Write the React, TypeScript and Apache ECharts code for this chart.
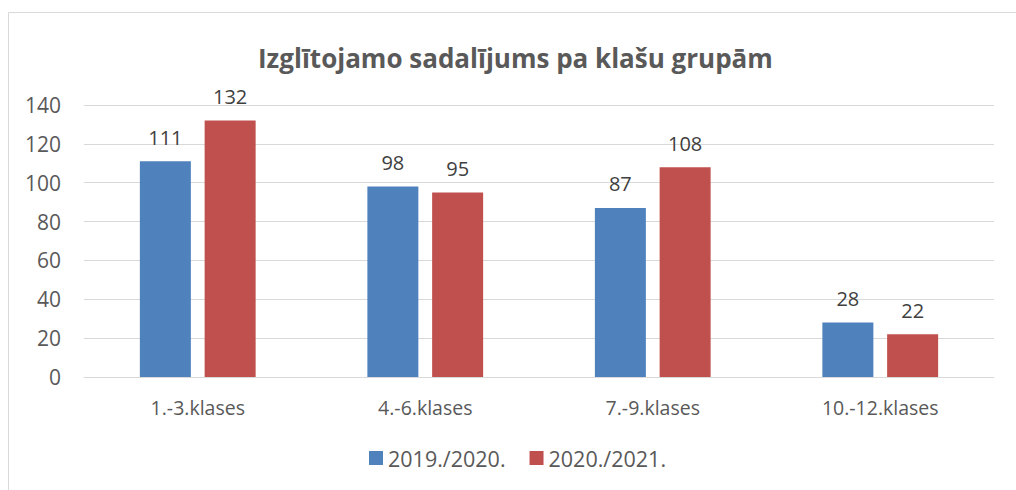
import React, { useEffect, useRef } from "react";
import * as echarts from "echarts";

const categories = ["1.-3.klases", "4.-6.klases", "7.-9.klases", "10.-12.klases"];
const series2019 = [111, 98, 87, 28];
const series2020 = [132, 95, 108, 22];
const seriesNames = ["2019./2020.", "2020./2021."];
const titleText = "Izglītojamo sadalījums pa klašu grupām";

const FONT = "Open Sans";

export default function App() {
  const ref = useRef<HTMLDivElement>(null);
  useEffect(() => {
    document.body.style.margin = "0";
    const chart = echarts.init(ref.current!, null, { renderer: "svg" });
    const labelCfg = {
      show: true,
      position: "top",
      distance: 14,
      color: "#404040",
      fontSize: 20,
      fontFamily: FONT,
    };
    chart.setOption({
      animation: false,
      backgroundColor: "#ffffff",
      graphic: [
        {
          type: "rect",
          shape: { x: 8.5, y: 12.5, width: 1020, height: 500 },
          style: { fill: "none", stroke: "#d9d9d9", lineWidth: 1 },
          silent: true,
        },
      ],
      title: {
        text: titleText,
        left: 253,
        top: 40,
        textStyle: { fontFamily: FONT, fontSize: 26, fontWeight: "bold", color: "#595959" },
      },
      legend: {
        data: seriesNames,
        bottom: 16,
        left: 364,
        itemWidth: 14,
        itemHeight: 14,
        itemGap: 24,
        icon: "rect",
        textStyle: { fontFamily: FONT, fontSize: 21.5, color: "#595959" },
      },
      grid: { left: 84, right: 22, top: 105, bottom: 113 },
      xAxis: {
        type: "category",
        data: categories,
        axisLine: { show: true, lineStyle: { color: "#d9d9d9" } },
        axisTick: { show: false },
        axisLabel: { fontFamily: FONT, fontSize: 19.5, color: "#595959", margin: 20 },
      },
      yAxis: {
        type: "value",
        min: 0,
        max: 140,
        interval: 20,
        axisLine: { show: false },
        axisTick: { show: false },
        splitLine: { lineStyle: { color: "#d9d9d9" } },
        axisLabel: { fontFamily: FONT, fontSize: 21, color: "#595959", margin: 23 },
      },
      series: [
        {
          name: seriesNames[0],
          type: "bar",
          data: series2019,
          barWidth: 51,
          barGap: "27%",
          itemStyle: { color: "#4F81BD" },
          label: labelCfg,
        },
        {
          name: seriesNames[1],
          type: "bar",
          data: series2020,
          barWidth: 51,
          barGap: "27%",
          itemStyle: { color: "#C0504D" },
          label: labelCfg,
        },
      ],
    });
    return () => chart.dispose();
  }, []);
  return <div ref={ref} style={{ width: 1016, height: 490 }} />;
}
